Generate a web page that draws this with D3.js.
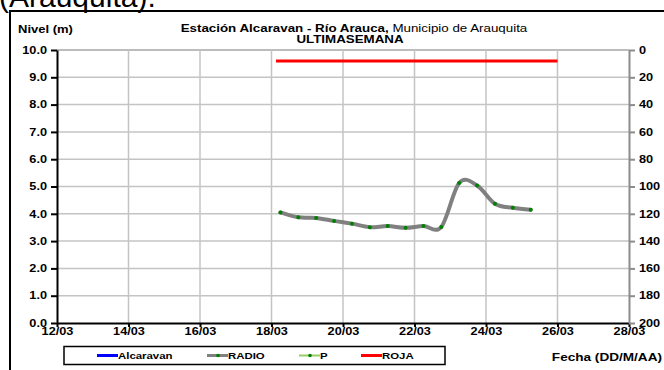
<!DOCTYPE html>
<html>
<head>
<meta charset="utf-8">
<script src="https://cdn.jsdelivr.net/npm/d3@7"></script>
<style>
  body { margin: 0; background: #fff; }
  text { font-family: "Liberation Sans", Arial, sans-serif; }
</style>
</head>
<body>
<script>
// data
var fechas = ["2019-03-18 06:00", "2019-03-18 18:00", "2019-03-19 06:00", "2019-03-19 18:00",
              "2019-03-20 06:00", "2019-03-20 18:00", "2019-03-21 06:00", "2019-03-21 18:00",
              "2019-03-22 06:00", "2019-03-22 18:00", "2019-03-23 06:00", "2019-03-23 18:00",
              "2019-03-24 06:00", "2019-03-24 18:00", "2019-03-25 06:00"];
var nivelRadio = [4.05, 3.87, 3.85, 3.74, 3.64, 3.51, 3.55, 3.49, 3.55, 3.52, 5.13, 5.04, 4.37, 4.22, 4.15];
var nivelAlcaravan = [];
var precipP = [];
var rojaFechas = ["2019-03-18 03:00", "2019-03-26 00:00"];
var rojaNivel = [9.6, 9.6];
var xTicks = ["2019-03-12", "2019-03-14", "2019-03-16", "2019-03-18", "2019-03-20",
              "2019-03-22", "2019-03-24", "2019-03-26", "2019-03-28"];
var yTicks = [0, 1, 2, 3, 4, 5, 6, 7, 8, 9, 10];
var pTicks = [0, 20, 40, 60, 80, 100, 120, 140, 160, 180, 200];

var W = 664, H = 370;
var plotLeft = 57, plotRight = 629, plotTop = 50, plotBottom = 323;
var stretch = 1.27; // the original picture is a bit wider than tall

var parse = d3.timeParse("%Y-%m-%d %H:%M");
var parseDay = d3.timeParse("%Y-%m-%d");

var svg = d3.select("body").append("svg")
    .attr("width", W)
    .attr("height", H);

var xScale = d3.scaleTime()
    .domain([parseDay(xTicks[0]), parseDay(xTicks[xTicks.length - 1])])
    .range([plotLeft, plotRight]);
var yScale = d3.scaleLinear().domain([0, 10]).range([plotBottom, plotTop]);
var pScale = d3.scaleLinear().domain([0, 200]).range([plotTop, plotBottom]);

// cut-off text above the frame
svg.append("text").attr("x", -1).attr("y", 7).attr("class", "nostretch")
    .attr("font-size", 30).text("(Arauquita).");

// outer frame
svg.append("line").attr("x1", 9).attr("x2", W).attr("y1", 11).attr("y2", 11)
    .attr("stroke", "#000").attr("stroke-width", 2);
svg.append("line").attr("x1", 10).attr("x2", 10).attr("y1", 10).attr("y2", H)
    .attr("stroke", "#000").attr("stroke-width", 2);

//grid
var xDates = xTicks.map(parseDay);
svg.append("g").selectAll("line").data(yTicks.slice(1)).enter().append("line")
    .attr("x1", plotLeft).attr("x2", plotRight)
    .attr("y1", function(d) { return yScale(d); })
    .attr("y2", function(d) { return yScale(d); })
    .attr("stroke", function(d) { return d == 10 ? "#a6a6a6" : "#c4c4c4"; })
    .attr("stroke-width", 1.5);
svg.append("g").selectAll("line").data(xDates.slice(1, -1)).enter().append("line")
    .attr("x1", function(d) { return xScale(d); })
    .attr("x2", function(d) { return xScale(d); })
    .attr("y1", plotTop).attr("y2", plotBottom)
    .attr("stroke", "#c4c4c4").attr("stroke-width", 1.5);

// axes
var xAxis = svg.append("g").attr("transform", `translate(0, ${plotBottom})`)
    .call(d3.axisBottom(xScale).tickValues(xDates).tickFormat(d3.timeFormat("%d/%m"))
        .tickSize(4).tickSizeOuter(0));
var yAxis = svg.append("g").attr("transform", `translate(${plotLeft}, 0)`)
    .call(d3.axisLeft(yScale).tickValues(yTicks).tickFormat(d3.format(".1f"))
        .tickSize(6).tickSizeOuter(0));
var pAxis = svg.append("g").attr("transform", `translate(${plotRight}, 0)`)
    .call(d3.axisRight(pScale).tickValues(pTicks).tickSize(6).tickSizeOuter(0));

[xAxis, yAxis, pAxis].forEach(function(a) {
    a.selectAll("text").attr("font-family", "Liberation Sans, Arial, sans-serif")
        .attr("font-weight", "bold").attr("font-size", 10).attr("fill", "#000");
});
xAxis.selectAll("path, line").attr("stroke", "#000").attr("stroke-width", 2);
yAxis.selectAll("path, line").attr("stroke", "#000").attr("stroke-width", 2);
pAxis.selectAll("path, line").attr("stroke", "#8c8c8c").attr("stroke-width", 2);
xAxis.selectAll("text").attr("x", 0).attr("y", 5).attr("dy", "0.71em");
yAxis.selectAll("text").attr("x", -10);
pAxis.selectAll("text").attr("x", 10);

// series
var line = d3.line()
    .x(function(d) { return xScale(d.t); })
    .y(function(d) { return yScale(d.v); });

var radio = fechas.map(function(f, i) { return {t: parse(f), v: nivelRadio[i]}; });
var roja = rojaFechas.map(function(f, i) { return {t: parse(f), v: rojaNivel[i]}; });

svg.append("path").datum(roja).attr("d", line.curve(d3.curveLinear))
    .attr("fill", "none").attr("stroke", "#ff0000").attr("stroke-width", 3);

svg.append("path").datum(radio).attr("d", line.curve(d3.curveCardinal.tension(0)))
    .attr("fill", "none").attr("stroke", "#808080").attr("stroke-width", 4)
    .attr("stroke-linecap", "round");
svg.append("g").selectAll("circle").data(radio).enter().append("circle")
    .attr("cx", function(d) { return xScale(d.t); })
    .attr("cy", function(d) { return yScale(d.v); })
    .attr("r", 2).attr("fill", "#008000");

// titles
var title = svg.append("text").attr("x", 354).attr("y", 32.5)
    .attr("text-anchor", "middle").attr("font-size", 10.5);
title.append("tspan").attr("font-weight", "bold").text("Estación Alcaravan - Río Arauca,");
title.append("tspan").text(" Municipio de Arauquita");
svg.append("text").attr("x", 350).attr("y", 43.5).attr("text-anchor", "middle")
    .attr("font-size", 10.5).attr("font-weight", "bold").text("ULTIMASEMANA");
svg.append("text").attr("x", 18).attr("y", 33)
    .attr("font-size", 10.25).attr("font-weight", "bold").text("Nivel (m)");
svg.append("text").attr("x", 662).attr("y", 361).attr("text-anchor", "end")
    .attr("font-size", 10.7).attr("font-weight", "bold").text("Fecha (DD/M/AA)");

// legend
var legend = svg.append("g");
legend.append("rect").attr("x", 64).attr("y", 346.5).attr("width", 381).attr("height", 18)
    .attr("fill", "#fff").attr("stroke", "#000").attr("stroke-width", 1.5);
var items = [
    {name: "Alcaravan", x: 97, color: "#0000ff", dot: false, w: 3},
    {name: "RADIO", x: 207, color: "#808080", dot: true, w: 3},
    {name: "P", x: 299, color: "#99cc66", dot: true, w: 2},
    {name: "ROJA", x: 361, color: "#ff0000", dot: false, w: 3}
];
items.forEach(function(it) {
    legend.append("line").attr("x1", it.x).attr("x2", it.x + 21)
        .attr("y1", 355.5).attr("y2", 355.5)
        .attr("stroke", it.color).attr("stroke-width", it.w);
    if (it.dot) {
        legend.append("circle").attr("cx", it.x + 11).attr("cy", 355.5).attr("r", 1.8)
            .attr("fill", "#008000");
    }
    legend.append("text").attr("x", it.x + 21).attr("y", 359)
        .attr("font-size", 9).attr("font-weight", "bold").text(it.name);
});

// widen every text around its anchor point, like in the original picture
svg.selectAll("text").filter(function() { return !this.classList.contains("nostretch"); })
    .each(function() {
        var ax = parseFloat(this.getAttribute("x")) || 0;
        d3.select(this).attr("transform",
            `translate(${ax}, 0) scale(${stretch}, 1) translate(${-ax}, 0)`);
    });
</script>
</body>
</html>
